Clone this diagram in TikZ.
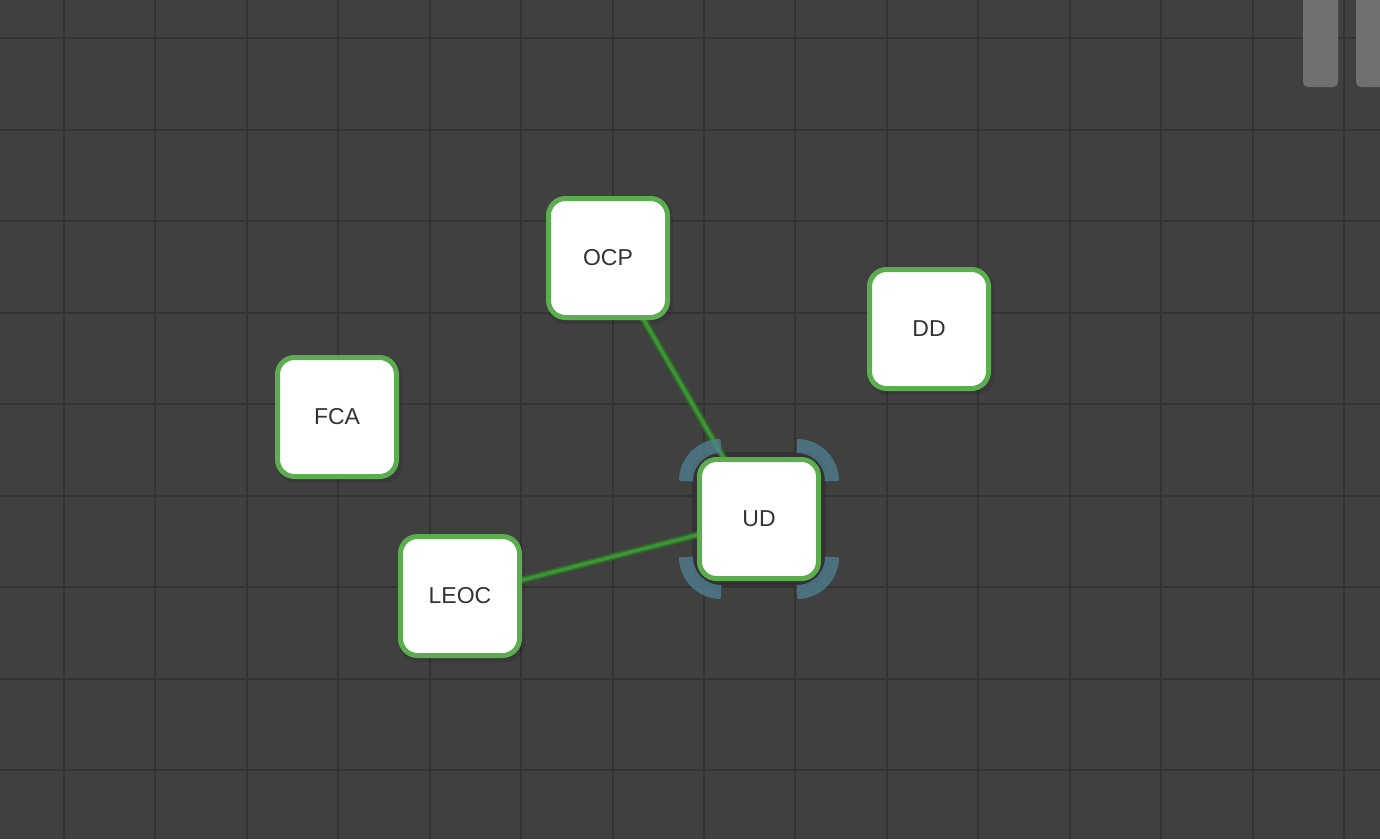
\documentclass[tikz,border=0pt]{standalone}
\usepackage{fontspec}
\setmainfont{Liberation Sans}
\usetikzlibrary{calc}
\definecolor{bg}{HTML}{404040}
\definecolor{gridc}{HTML}{333333}
\definecolor{nodegreen}{HTML}{5CAD50}
\definecolor{edgedark}{HTML}{2D6A28}
\definecolor{edgelight}{HTML}{3F9237}
\definecolor{selc}{RGB}{80,130,148}
\definecolor{txt}{HTML}{333333}
\definecolor{scrollc}{HTML}{707070}
\tikzset{
  vnode/.style={draw=nodegreen, line width=5pt, fill=white, rounded corners=17pt,
    minimum width=119pt, minimum height=119pt, inner sep=0pt, text=txt,
    font=\fontsize{23}{27}\selectfont},
  shadowbox/.style={fill=black, opacity=0.1, rounded corners=19pt},
  edgeouter/.style={draw=edgedark, line width=7pt},
  edgeinner/.style={draw=edgelight, line width=3.5pt},
  selbracket/.style={draw=selc, line width=14pt, opacity=0.75},
  gridline/.style={draw=gridc, line width=2pt},
  scrollbar/.style={fill=scrollc, rounded corners=5pt}
}
\begin{document}
\begin{tikzpicture}[x=1pt,y=-1pt]
\useasboundingbox (0,0) rectangle (1380,839);
\fill[bg] (0,0) rectangle (1380,839);
% grid
\foreach \i in {0,...,14} { \draw[gridline] ({64+91.43*\i},0) -- ({64+91.43*\i},839); }
\foreach \j in {0,...,8} { \draw[gridline] (0,{38+91.5*\j}) -- (1380,{38+91.5*\j}); }
% scrollbars
\fill[scrollbar] (1303,-10) rectangle (1338,87);
\fill[scrollbar] (1356,-10) rectangle (1392,87);
% node positions
\coordinate (pOCP) at (608,258);
\coordinate (pDD) at (929,329);
\coordinate (pFCA) at (337,417);
\coordinate (pLEOC) at (460,596);
\coordinate (pUD) at (759,519);
% shadows
\foreach \p in {pOCP,pDD,pFCA,pLEOC} {
  \fill[shadowbox] ($(\p)+(-61,-60)$) rectangle ($(\p)+(65,66)$);
}
% selected ring
\fill[gridc, rounded corners=21pt] ($(pUD)+(-67,-67)$) rectangle ($(pUD)+(67,67)$);
% edges
\draw[edgeouter] (pOCP) -- (pUD);
\draw[edgeinner] (pOCP) -- (pUD);
\draw[edgeouter] (pLEOC) -- (pUD);
\draw[edgeinner] (pLEOC) -- (pUD);
% selection brackets
\draw[selbracket] ($(pUD)+(-38-35,-38)$) arc[start angle=180, end angle=270, radius=35];
\draw[selbracket] ($(pUD)+(38,-38-35)$) arc[start angle=270, end angle=360, radius=35];
\draw[selbracket] ($(pUD)+(38+35,38)$) arc[start angle=0, end angle=90, radius=35];
\draw[selbracket] ($(pUD)+(-38,38+35)$) arc[start angle=90, end angle=180, radius=35];
% nodes
\node[vnode] (OCP) at (pOCP) {OCP};
\node[vnode] (DD) at (pDD) {DD};
\node[vnode] (FCA) at (pFCA) {FCA};
\node[vnode] (LEOC) at (pLEOC) {LEOC};
\node[vnode] (UD) at (pUD) {UD};
\end{tikzpicture}
\end{document}
